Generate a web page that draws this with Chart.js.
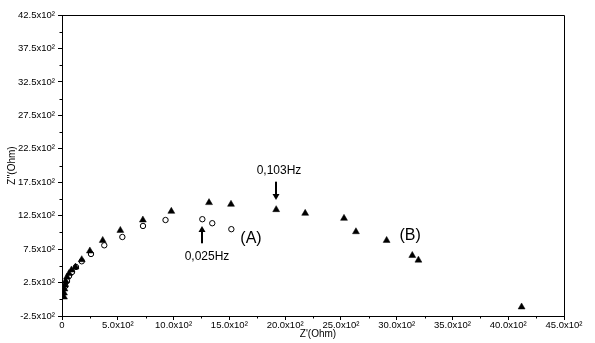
<!DOCTYPE html>
<html>
<head>
<meta charset="utf-8">
<script src="https://cdn.jsdelivr.net/npm/chart.js@4"></script>
<style>
  html, body { margin: 0; padding: 0; background: #fff; }
  canvas { display: block; }
</style>
</head>
<body>
<canvas id="chart" width="595" height="343"></canvas>
<script>
// series (B): filled triangles
const bReal = [4120, 3195, 3140, 2910, 2635, 2528, 2180, 1920, 1515, 1318, 980, 725, 523, 365, 250, 177, 121, 85, 63, 45, 33, 27, 22, 18, 18];
const bImag = [-115, 585, 655, 880, 1010, 1210, 1285, 1340, 1420, 1445, 1315, 1185, 1030, 880, 722, 592, 482, 438, 385, 333, 273, 213, 154, 94, 34];

// series (A): open circles
const aReal = [1518, 1347, 1258, 928, 726, 541, 379, 260, 177, 125, 90, 63, 45, 30];
const aImag = [1048, 1137, 1197, 1185, 1096, 931, 807, 677, 568, 483, 408, 348, 273, 200];

const xTickLabels = ['0', '5.0x10²', '10.0x10²', '15.0x10²', '20.0x10²', '25.0x10²', '30.0x10²', '35.0x10²', '40.0x10²', '45.0x10²'];
const yTickLabels = ['-2.5x10²', '2.5x10²', '7.5x10²', '12.5x10²', '17.5x10²', '22.5x10²', '27.5x10²', '32.5x10²', '37.5x10²', '42.5x10²'];

// annotations in data units
const notes = [
  { text: '0,103Hz', x: 1945, y: 1922, size: 12 },
  { text: '0,025Hz', x: 1300, y: 632, size: 12 },
  { text: '(A)', x: 1694, y: 901, size: 16 },
  { text: '(B)', x: 3120, y: 946, size: 16 },
];
const arrows = [
  { x: 1918, from: 1758, to: 1484 },
  { x: 1258, from: 837, to: 1096 },
];

const FONT = '"Liberation Sans", Arial, sans-serif';
const toPoints = (xs, ys) => xs.map((x, i) => ({ x, y: ys[i] }));

const isMajorX = (v) => v % 500 === 0;
const isMajorY = (v) => (v + 250) % 500 === 0;

const extras = {
  id: 'extras',
  afterDraw(chart) {
    const { ctx, chartArea: a, scales } = chart;
    const xs = scales.x, ys = scales.y;
    ctx.save();
    ctx.strokeStyle = '#000';
    ctx.lineWidth = 1;

    // box top + right
    ctx.beginPath();
    ctx.moveTo(a.left, a.top + 0.5);
    ctx.lineTo(a.right + 0.5, a.top + 0.5);
    ctx.lineTo(a.right + 0.5, a.bottom);
    ctx.stroke();

    // minor ticks
    ctx.beginPath();
    xs.ticks.forEach((t, i) => {
      if (isMajorX(t.value)) return;
      const px = Math.round(xs.getPixelForTick(i)) + 0.5;
      ctx.moveTo(px, a.bottom);
      ctx.lineTo(px, a.bottom + 2.5);
    });
    ys.ticks.forEach((t, i) => {
      if (isMajorY(t.value)) return;
      const py = Math.round(ys.getPixelForTick(i)) + 0.5;
      ctx.moveTo(a.left, py);
      ctx.lineTo(a.left - 2.5, py);
    });
    ctx.stroke();

    // arrows
    ctx.fillStyle = '#000';
    arrows.forEach(ar => {
      const px = Math.round(xs.getPixelForValue(ar.x));
      const y0 = ys.getPixelForValue(ar.from);
      const y1 = ys.getPixelForValue(ar.to);
      const dir = y1 > y0 ? 1 : -1;
      ctx.fillRect(px - 1, Math.min(y0, y1 - dir * 5), 2, Math.abs(y1 - dir * 5 - y0));
      ctx.beginPath();
      ctx.moveTo(px - 3.5, y1 - dir * 6);
      ctx.lineTo(px + 3.5, y1 - dir * 6);
      ctx.lineTo(px, y1);
      ctx.closePath();
      ctx.fill();
    });

    // text notes
    ctx.textAlign = 'center';
    ctx.textBaseline = 'middle';
    notes.forEach(n => {
      ctx.font = `${n.size}px ${FONT}`;
      ctx.fillText(n.text, xs.getPixelForValue(n.x), ys.getPixelForValue(n.y));
    });

    // axis titles
    ctx.font = `10px ${FONT}`;
    ctx.fillText("Z'(Ohm)", 318, 334);
    ctx.translate(12, (a.top + a.bottom) / 2);
    ctx.rotate(-Math.PI / 2);
    ctx.fillText("Z''(Ohm)", 0, 0);
    ctx.restore();
  }
};

new Chart(document.getElementById('chart'), {
  type: 'scatter',
  data: {
    datasets: [
      {
        label: '(B)',
        data: toPoints(bReal, bImag),
        pointStyle: 'triangle',
        pointRadius: 4,
        backgroundColor: '#000',
        borderColor: '#000',
        borderWidth: 0.5,
      },
      {
        label: '(A)',
        data: toPoints(aReal, aImag),
        pointStyle: 'circle',
        pointRadius: 2.7,
        backgroundColor: '#fff',
        borderColor: '#000',
        borderWidth: 1,
      },
    ],
  },
  options: {
    responsive: false,
    animation: false,
    layout: { padding: { top: 15, right: 31, left: 0, bottom: 0 } },
    plugins: {
      legend: { display: false },
      tooltip: { enabled: false },
    },
    scales: {
      x: {
        type: 'linear',
        min: 0, max: 4500,
        afterFit: (s) => { s.height = 27; },
        border: { color: '#000', width: 1 },
        grid: {
          drawOnChartArea: false, drawTicks: true, tickLength: 4,
          tickColor: (c) => isMajorX(c.tick.value) ? '#000' : 'rgba(0,0,0,0)',
        },
        ticks: {
          stepSize: 250, autoSkip: false, maxRotation: 0, padding: 0,
          color: '#000', font: { size: 9.5, family: FONT },
          callback: (v) => isMajorX(v) ? xTickLabels[v / 500] : '',
        },
      },
      y: {
        type: 'linear',
        min: -250, max: 4250,
        afterFit: (s) => { s.width = 62; },
        border: { color: '#000', width: 1 },
        grid: {
          drawOnChartArea: false, drawTicks: true, tickLength: 4,
          tickColor: (c) => isMajorY(c.tick.value) ? '#000' : 'rgba(0,0,0,0)',
        },
        ticks: {
          stepSize: 250, autoSkip: false, padding: 3,
          color: '#000', font: { size: 9.5, family: FONT },
          callback: (v) => isMajorY(v) ? yTickLabels[(v + 250) / 500] : '',
        },
      },
    },
  },
  plugins: [extras],
});
</script>
</body>
</html>
